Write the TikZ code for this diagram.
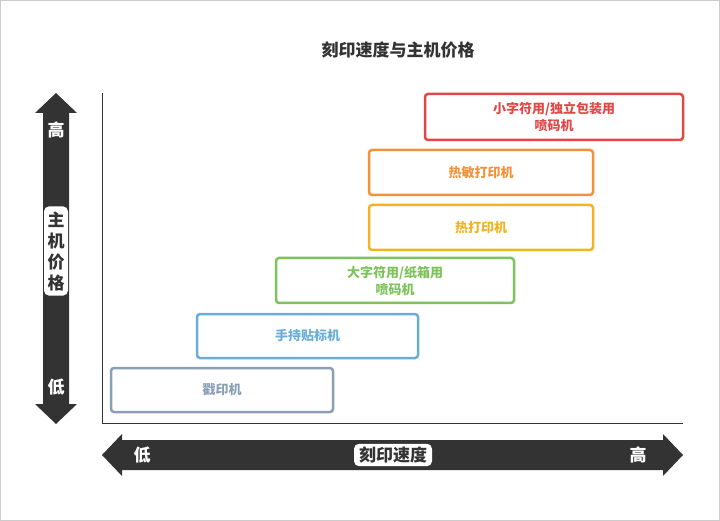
\documentclass[tikz,border=0pt]{standalone}
\usepackage{fontspec}
\setmainfont{Noto Sans CJK SC}
\usetikzlibrary{positioning}
\definecolor{darkbar}{HTML}{333333}
\definecolor{cstamp}{HTML}{8A9FB5}
\definecolor{chand}{HTML}{6AAED6}
\definecolor{cbig}{HTML}{7DC35B}
\definecolor{cthermal}{HTML}{F0B323}
\definecolor{cdirect}{HTML}{F0923A}
\definecolor{csmall}{HTML}{E04848}
\tikzset{
  levelbox/.style={draw=#1, text=#1, line width=2.5pt, rounded corners=3pt,
    font=\bfseries\fontsize{13}{17}\selectfont, align=center, inner sep=0pt},
  axistext/.style={text=white, font=\bfseries\fontsize{17}{19}\selectfont},
  axislabel/.style={fill=white, rounded corners=5pt, text=darkbar,
    font=\bfseries\fontsize{17}{21}\selectfont, align=center, inner sep=5pt}
}
\begin{document}
\begin{tikzpicture}[x=1pt,y=-1pt]
\useasboundingbox (0,0) rectangle (720,521);
\draw[gray!40] (0.5,0.5) rectangle (719.5,520.5);

\node[font=\bfseries\fontsize{17}{19}\selectfont, text=darkbar] (title) at (398,50) {刻印速度与主机价格};

% axes
\coordinate (origin) at (102,423);
\coordinate (ytop) at (102,93);
\coordinate (xend) at (683,423);
\draw[darkbar, line width=0.8pt] (ytop) -- (origin) -- (xend);

% vertical arrow
\fill[darkbar] (56,93) -- (77,113) -- (69,113) -- (69,404) -- (77,404) -- (56,424)
  -- (35,404) -- (43,404) -- (43,113) -- (35,113) -- cycle;
\node[axistext] (yhigh) at (56,130) {高};
\node[axistext] (ylow) at (56,387) {低};
\node[axislabel, text width=18pt, inner xsep=3pt] (ylabel) at (56,251) {主\\机\\价\\格};

% horizontal arrow
\fill[darkbar] (102,455) -- (122,434) -- (122,440) -- (663,440) -- (663,434) -- (683,455)
  -- (663,476) -- (663,470) -- (122,470) -- (122,476) -- cycle;
\node[axistext] (xlow) at (142,455) {低};
\node[axistext] (xhigh) at (638,455) {高};
\node[axislabel, inner ysep=3pt] (xlabel) at (393,455) {刻印速度};

% levels
\node[levelbox=cstamp, minimum width=222pt, minimum height=44pt] (stamp) at (222,390) {戳印机};
\node[levelbox=chand, minimum width=221pt, minimum height=44pt] (hand) at (307.5,336) {手持贴标机};
\node[levelbox=cbig, minimum width=238pt, minimum height=45pt] (big) at (395,280.5) {大字符用/纸箱用\\喷码机};
\node[levelbox=cthermal, minimum width=224pt, minimum height=45pt] (thermal) at (481,227.5) {热打印机};
\node[levelbox=cdirect, minimum width=224pt, minimum height=45pt] (direct) at (481,172.5) {热敏打印机};
\node[levelbox=csmall, minimum width=258pt, minimum height=46pt] (small) at (554,117) {小字符用/独立包装用\\喷码机};
\end{tikzpicture}
\end{document}
